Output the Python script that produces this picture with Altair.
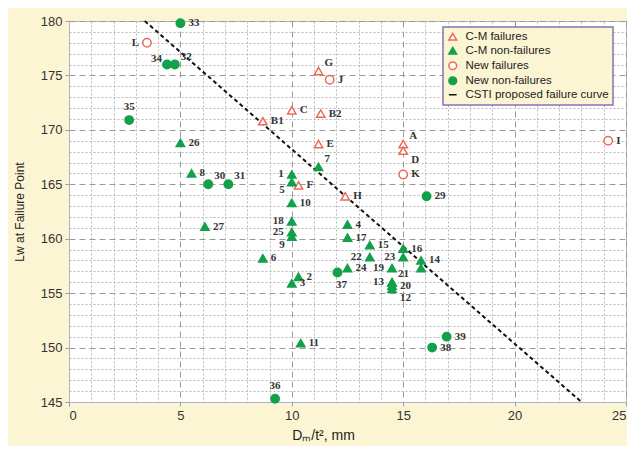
import altair as alt
import pandas as pd

# ---------------- data ----------------
cm_fail_names = ["B1", "C", "G", "B2", "E", "A", "D", "F", "H"]
cm_fail_x = [8.7, 10.0, 11.2, 11.3, 11.2, 15.0, 15.0, 10.3, 12.4]
cm_fail_y = [170.8, 171.8, 175.4, 171.5, 168.7, 168.7, 168.1, 164.9, 163.9]

new_fail_names = ["L", "J", "K", "I"]
new_fail_x = [3.5, 11.7, 15.0, 24.2]
new_fail_y = [178.0, 174.6, 165.9, 169.0]

cm_ok_names = ["1", "5", "7", "8", "10", "18", "25", "9", "27", "6", "3", "2", "26", "11",
               "4", "17", "15", "22", "24", "19", "13", "21", "20", "12", "23", "16", "14", ""]
cm_ok_x = [10.0, 10.0, 11.2, 5.5, 10.0, 10.0, 10.0, 10.0, 6.1, 8.7, 10.0, 10.3, 5.0, 10.4,
           12.5, 12.5, 13.5, 13.5, 12.5, 14.5, 14.5, 14.5, 14.5, 14.5, 15.0, 15.0, 15.8, 15.8]
cm_ok_y = [165.9, 165.2, 166.6, 166.0, 163.3, 161.6, 160.6, 160.2, 161.1, 158.2, 155.9, 156.5, 168.8, 150.4,
           161.3, 160.1, 159.4, 158.3, 157.3, 157.3, 156.0, 156.0, 155.7, 155.4, 158.3, 159.1, 158.0, 157.3]

new_ok_names = ["33", "34", "32", "35", "30", "31", "29", "36", "37", "38", "39"]
new_ok_x = [5.0, 4.4, 4.75, 2.7, 6.25, 7.15, 16.05, 9.25, 12.05, 16.3, 16.95]
new_ok_y = [179.8, 176.0, 176.0, 170.9, 165.0, 165.0, 163.9, 145.3, 156.9, 150.0, 151.0]

curve_x = [3.4, 23.0]
curve_y = [180.0, 145.0]

series_order = ["C-M failures", "C-M non-failures", "New failures", "New non-failures",
                "CSTI proposed failure curve"]

# label placement groups (by name)
left_labels = ["L", "1", "18", "25", "22", "23", "19", "13"]
downleft_labels = ["5", "9"]
upleft_labels = ["34"]
upright_labels = ["G", "A", "7", "30", "31", "32", "21"]
downright_labels = ["D", "12"]
above_labels = ["35", "36"]
below_labels = ["37"]

RED = "#ec6a55"
GREEN = "#13a04b"
BG = "#fcf5d3"

# ---------------- tables ----------------
frames = []
for name, xs, ys, names in [
    ("C-M failures", cm_fail_x, cm_fail_y, cm_fail_names),
    ("C-M non-failures", cm_ok_x, cm_ok_y, cm_ok_names),
    ("New failures", new_fail_x, new_fail_y, new_fail_names),
    ("New non-failures", new_ok_x, new_ok_y, new_ok_names),
]:
    frames.append(pd.DataFrame({"x": xs, "y": ys, "label": names, "series": name}))
pts = pd.concat(frames, ignore_index=True)

groups = {}
for g, lst in [("left", left_labels), ("downleft", downleft_labels), ("upleft", upleft_labels),
               ("upright", upright_labels), ("downright", downright_labels),
               ("above", above_labels), ("below", below_labels)]:
    for n in lst:
        groups[n] = g
pts["pos"] = [groups.get(n, "right") for n in pts["label"]]

curve = pd.DataFrame({"x": curve_x, "y": curve_y, "series": "CSTI proposed failure curve"})

# ---------------- scales ----------------
xscale = alt.Scale(domain=[0, 25], nice=False, zero=False)
yscale = alt.Scale(domain=[145, 180], nice=False, zero=False)

stroke_scale = alt.Scale(domain=series_order, range=[RED, GREEN, RED, GREEN, "#111111"])
fill_scale = alt.Scale(domain=series_order, range=["white", GREEN, "white", GREEN, "#111111"])
shape_scale = alt.Scale(domain=series_order,
                        range=["triangle-up", "triangle-up", "circle", "circle", "stroke"])

major = "datum.value % 5 === 0"
common_axis = dict(
    labelExpr="datum.value % 5 === 0 ? datum.label : ''",
    labelOverlap=False,
    grid=True,
    gridColor={"condition": {"test": major, "value": "#999999"}, "value": "#b9b9b9"},
    gridDash={"condition": {"test": major, "value": [6, 4]}, "value": [2, 2]},
    tickOpacity={"condition": {"test": major, "value": 1}, "value": 0},
    tickSize=4,
    tickColor="#9a9ab0",
    domainColor="#b0b0c8",
    labelFont="Liberation Sans",
    labelFontSize=13,
    labelColor="#333333",
    labelPadding=3,
    titleFont="Liberation Sans",
    titleFontWeight="normal",
    titleColor="#222222",
)
xaxis = alt.Axis(
    values=list(range(0, 26)),
    title="Dₘ/t², mm",
    titleFontSize=14,
    titleX=254,
    titleAlign="center",
    titlePadding=6,
    **common_axis,
)
yaxis = alt.Axis(
    values=list(range(145, 181)),
    title="Lw at Failure Point",
    titleFontSize=12,
    titleX=-43,
    titlePadding=4,
    **common_axis,
)

base_x = alt.X("x:Q", scale=xscale, axis=xaxis)
base_y = alt.Y("y:Q", scale=yscale, axis=yaxis)

legend = alt.Legend(title=None)

line = alt.Chart(curve).mark_line(strokeDash=[4, 3], strokeWidth=2).encode(
    x=base_x, y=base_y,
    stroke=alt.Stroke("series:N", scale=stroke_scale, legend=legend),
)

points = alt.Chart(pts).mark_point(filled=True, opacity=1, strokeWidth=1.5, size=70).encode(
    x=base_x, y=base_y,
    stroke=alt.Stroke("series:N", scale=stroke_scale, legend=legend),
    fill=alt.Fill("series:N", scale=fill_scale, legend=legend),
    shape=alt.Shape("series:N", scale=shape_scale, legend=legend),
)

offsets = {
    "right": (8, 0, "left"),
    "left": (-8, 0, "right"),
    "upright": (6, -8, "left"),
    "downright": (8, 9, "left"),
    "upleft": (-5, -6, "right"),
    "downleft": (-7, 8, "right"),
    "above": (0, -13, "center"),
    "below": (4, 13, "center"),
}

text_layers = []
for g, (dx, dy, al) in offsets.items():
    text_layers.append(
        alt.Chart(pts).transform_filter(alt.datum.pos == g).mark_text(
            dx=dx, dy=dy, align=al, baseline="middle",
            font="Liberation Serif", fontSize=11, fontWeight="bold", color="#333333",
        ).encode(x=base_x, y=base_y, text="label:N")
    )

chart = alt.layer(line, points, *text_layers).properties(
    width=557,
    height=381,
    autosize=alt.AutoSizeParams(type="none"),
    padding={"left": 61, "top": 13, "right": 1, "bottom": 44},
    background=BG,
).configure_view(
    fill="white", stroke="#b8b8cc", strokeWidth=1,
).configure_legend(
    orient="none",
    legendX=374,
    legendY=6,
    padding=4,
    fillColor=BG,
    strokeColor="#8a70b8",
    strokeWidth=1.5,
    labelFont="Liberation Sans",
    labelFontSize=11.5,
    labelColor="#222222",
    symbolSize=60,
    symbolStrokeWidth=1.5,
    rowPadding=0,
    labelOffset=7,
)

chart.save("out.html", embed_options={"renderer": "svg", "actions": False})
